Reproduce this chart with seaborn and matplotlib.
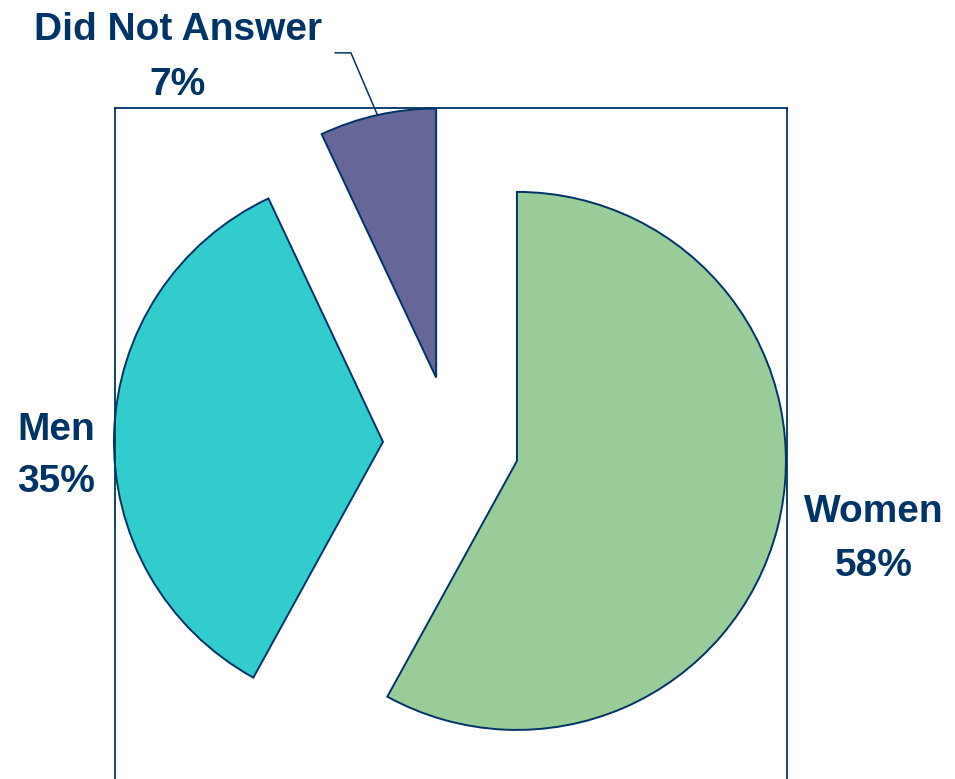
import numpy as np
import matplotlib
matplotlib.use("Agg")
import matplotlib.pyplot as plt
import seaborn as sns

# Survey respondents by gender
categories = ["Women", "Men", "Did Not Answer"]
shares = [58, 35, 7]
pct_labels = ["58%", "35%", "7%"]
slice_colors = ["#99CC99", "#33CCCC", "#666699"]

navy = "#003366"

sns.set_theme(style="white")
plt.rcParams["font.family"] = ["Liberation Sans", "DejaVu Sans"]

W, H = 955, 779
fig = plt.figure(figsize=(W / 100, H / 100), dpi=100)
# plot frame runs past the bottom edge of the figure
ax = fig.add_axes([115 / W, (H - 798) / H, 672 / W, 690 / H])

wedges, _ = ax.pie(
    shares,
    colors=slice_colors,
    explode=[0.253] * len(shares),
    startangle=90,
    counterclock=False,
    radius=1.0,
    wedgeprops=dict(edgecolor=navy, linewidth=1.4),
)

ax.set_xlim(-1.249, 1.249)
ax.set_ylim(-1.316, 1.249)
ax.set_aspect("equal")
ax.set_frame_on(True)
ax.set_xticks([])
ax.set_yticks([])
for sp in ax.spines.values():
    sp.set_visible(True)
    sp.set_color(navy)
    sp.set_linewidth(1.3)

# label anchor: x centre, baseline of name line, baseline of percentage line
label_pos = {
    "Women": (1.572, -0.290, -0.491),
    "Men": (-1.468, 0.015, -0.178),
    "Did Not Answer": (-1.015, 1.502, 1.297),
}
for name, pct in zip(categories, pct_labels):
    x, y1, y2 = label_pos[name]
    for s, y in ((name, y1), (pct, y2)):
        ax.text(x, y, s, ha="center", va="baseline",
                fontsize=28, fontweight="bold", color=navy, clip_on=False)

# Leader line from the small slice's rim to its label
w = wedges[2]
mid = np.deg2rad((w.theta1 + w.theta2) / 2)
cx, cy = w.center
tip = (cx + w.r * np.cos(mid), cy + w.r * np.sin(mid))
elbow = (-0.372, 1.454)
end = (-0.431, 1.454)
ax.plot([tip[0], elbow[0], end[0]], [tip[1], elbow[1], end[1]],
        color=navy, linewidth=1.1, clip_on=False)

fig.savefig("out.png", dpi=100)
